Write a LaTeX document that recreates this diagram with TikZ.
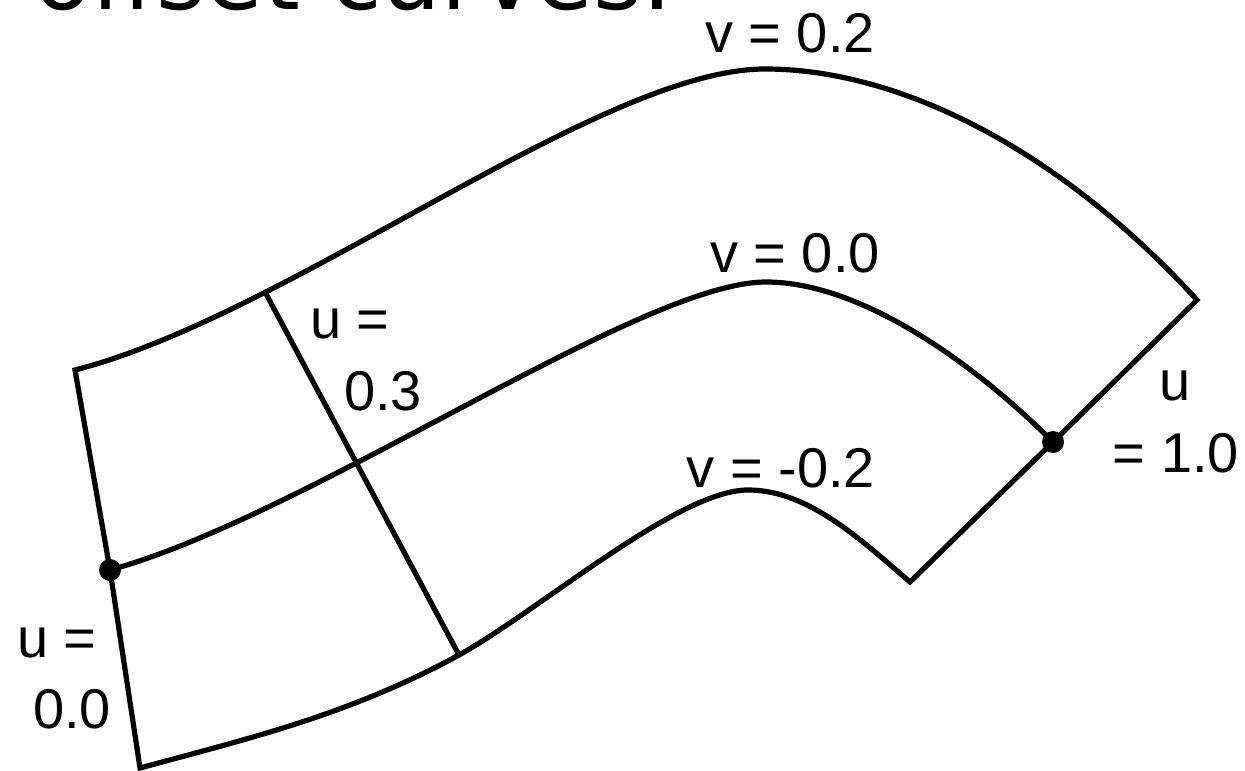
\documentclass[tikz,border=0pt]{standalone}
\usepackage{fontspec}
\setmainfont{Liberation Sans}
\newfontfamily\titlefont{DejaVu Sans}
\usepackage{tikz}
\usetikzlibrary{positioning}

\begin{document}
\begin{tikzpicture}[
  x=0.5pt, y=-0.5pt,
  curve/.style={line width=2.6pt, line join=miter, line cap=butt},
  lbl/.style={font=\fontsize{28}{34}\selectfont, inner sep=0pt, anchor=base},
  knot/.style={circle, fill=black, inner sep=0pt, minimum size=11pt}
]
  \useasboundingbox (0,0) rectangle (1245,770);

  % Title, cut off by the top edge
  \node[font=\titlefont\fontsize{47}{56}\selectfont, inner sep=0pt, anchor=base west] (title) at (34,10) {offset curves.};

  % Corners, peaks and knots
  \coordinate (tl) at (75,370);
  \coordinate (bl) at (140,768);
  \coordinate (tr) at (1197,300);
  \coordinate (br) at (910,582);
  \coordinate (d0) at (110,570);
  \coordinate (d1) at (1053,442);
  \coordinate (ptop) at (765,69);
  \coordinate (pmid) at (766,282);
  \coordinate (pbot) at (748,490);
  \coordinate (u3b) at (459,655);
  \path (tl) .. controls (290,315) and (600,69) .. (ptop) coordinate[pos=0.27] (u3t);

  % Outline: u = 0.0, v = -0.2, u = 1.0, v = 0.2
  \draw[curve] (d0) -- (bl) .. controls (250,738) and (349,715) .. (u3b)
    .. controls (540,610) and (678,490) .. (pbot)
    .. controls (808,490) and (860,539) .. (br)
    -- (d1) -- (tr) .. controls (1060,150) and (900,69) .. (ptop)
    .. controls (600,69) and (290,315) .. (tl) -- cycle;

  % Middle curve v = 0.0
  \draw[curve] (d0) .. controls (310,515) and (640,282) .. (pmid)
    .. controls (860,282) and (973,362) .. (d1);

  % Cross line u = 0.3
  \draw[curve] (u3t) -- (u3b);

  % Knots
  \node[knot] (k0) at (d0) {};
  \node[knot] (k1) at (d1) {};

  % Labels
  \node[lbl] (v02) at (790,53) {v = 0.2};
  \node[lbl] (v00) at (795,272) {v = 0.0};
  \node[lbl] (vm02) at (781,487) {v = -0.2};
  \node[lbl] (u03a) at (350,338) {u =};
  \node[lbl] (u03b) at (383,410) {0.3};
  \node[lbl] (u00a) at (57,657) {u =};
  \node[lbl] (u00b) at (72,728) {0.0};
  \node[lbl] (u10a) at (1175,400) {u};
  \node[lbl] (u10b) at (1176,472) {= 1.0};
\end{tikzpicture}
\end{document}
